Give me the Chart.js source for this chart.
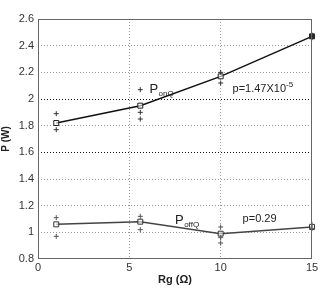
<!DOCTYPE html>
<html>
<head>
<meta charset="utf-8">
<script src="https://cdn.jsdelivr.net/npm/chart.js@4"></script>
<style>
  html, body { margin: 0; padding: 0; background: #fff; }
  #wrap { width: 333px; height: 291px; }
</style>
</head>
<body>
<div id="wrap"><canvas id="powerChart"></canvas></div>
<script>
// Rg values (ohm)
const rg = [1, 5.6, 10, 15];
// mean power, W
const onMean = [1.82, 1.95, 2.17, 2.47];
const offMean = [1.06, 1.08, 0.99, 1.04];
// individual samples
const onSamplesX = [1, 1, 5.6, 5.6, 5.6, 10, 10, 15, 15];
const onSamplesY = [1.89, 1.77, 2.07, 1.90, 1.85, 2.20, 2.12, 2.48, 2.46];
const offSamplesX = [1, 1, 5.6, 5.6, 10, 10, 10, 15, 15];
const offSamplesY = [1.11, 0.97, 1.12, 1.02, 1.04, 0.96, 0.92, 1.06, 1.03];
const xTicks = [0, 5, 10, 15];
const yTicks = [0.8, 1, 1.2, 1.4, 1.6, 1.8, 2, 2.2, 2.4, 2.6];

const pts = (xs, ys) => xs.map((x, i) => ({x: x, y: ys[i]}));

const labelFont = 'Liberation Sans, Arial, sans-serif';

// text labels and the closed frame
const extras = {
    id: 'extras',
    afterDatasetsDraw(chart) {
        const {ctx, chartArea, scales} = chart;
        const sx = scales.x, sy = scales.y;
        ctx.save();
        ctx.strokeStyle = '#666';
        ctx.lineWidth = 1;
        ctx.strokeRect(chartArea.left + 0.5, chartArea.top + 0.5,
            chartArea.right - chartArea.left - 1, chartArea.bottom - chartArea.top - 1);

        ctx.fillStyle = '#222';
        ctx.textBaseline = 'alphabetic';
        ctx.textAlign = 'left';
        const sub = (main, s, xv, yv) => {
            const px = sx.getPixelForValue(xv), py = sy.getPixelForValue(yv);
            ctx.font = '13px ' + labelFont;
            ctx.fillText(main, px, py);
            const w = ctx.measureText(main).width;
            ctx.font = '8px ' + labelFont;
            ctx.fillText(s, px + w + 0.5, py + 3);
        };
        sub('P', 'onQ', 6.1, 2.045);
        sub('P', 'offQ', 7.5, 1.06);

        ctx.font = '11px ' + labelFont;
        let px = sx.getPixelForValue(10.65), py = sy.getPixelForValue(2.05);
        ctx.fillText('p=1.47X10', px, py);
        let w = ctx.measureText('p=1.47X10').width;
        ctx.font = '8px ' + labelFont;
        ctx.fillText('-5', px + w, py - 5);

        ctx.font = '11px ' + labelFont;
        ctx.fillText('p=0.29', sx.getPixelForValue(11.2), sy.getPixelForValue(1.08));
        ctx.restore();
    }
};

new Chart(document.getElementById('powerChart'), {
    type: 'scatter',
    data: {
        datasets: [
            {
                label: 'PonQ samples',
                data: pts(onSamplesX, onSamplesY),
                pointStyle: 'cross',
                pointRadius: 2.5,
                borderColor: '#333',
                borderWidth: 1,
                showLine: false,
                clip: false
            },
            {
                label: 'PoffQ samples',
                data: pts(offSamplesX, offSamplesY),
                pointStyle: 'cross',
                pointRadius: 2.5,
                borderColor: '#555',
                borderWidth: 1,
                showLine: false,
                clip: false
            },
            {
                label: 'PonQ',
                data: pts(rg, onMean),
                showLine: true,
                clip: false,
                borderColor: '#111',
                borderWidth: 1.5,
                pointStyle: 'rect',
                pointRadius: 3.5,
                pointBorderWidth: 1,
                pointBorderColor: '#222',
                pointBackgroundColor: ['rgba(255,255,255,0.6)', 'rgba(255,255,255,0.6)', 'rgba(255,255,255,0.6)', '#222']
            },
            {
                label: 'PoffQ',
                data: pts(rg, offMean),
                showLine: true,
                clip: false,
                borderColor: '#444',
                borderWidth: 1.5,
                pointStyle: 'rect',
                pointRadius: 3.5,
                pointBorderWidth: 1,
                pointBorderColor: '#333',
                pointBackgroundColor: 'rgba(255,255,255,0.6)'
            }
        ]
    },
    options: {
        responsive: true,
        maintainAspectRatio: false,
        animation: false,
        layout: { padding: { top: 19, right: 21, left: 0, bottom: 0 } },
        plugins: {
            legend: { display: false },
            tooltip: { enabled: false }
        },
        scales: {
            x: {
                type: 'linear',
                min: 0,
                max: 15,
                afterBuildTicks: (s) => { s.ticks = xTicks.map(v => ({value: v})); },
                afterFit: (s) => { s.height = 32; },
                ticks: {
                    color: '#333',
                    font: { family: labelFont, size: 11 },
                    padding: 2,
                    maxRotation: 0
                },
                grid: {
                    color: (c) => (c.tick && (c.tick.value === 0 || c.tick.value === 15)) ? 'rgba(0,0,0,0)' : '#999',
                    drawTicks: false,
                    lineWidth: 1
                },
                border: { display: false, dash: [1, 2] },
                title: {
                    display: true,
                    text: 'Rg (Ω)',
                    color: '#222',
                    font: { family: labelFont, size: 11, weight: 'bold' },
                    padding: { top: 0, bottom: 4 }
                }
            },
            y: {
                min: 0.8,
                max: 2.6,
                afterBuildTicks: (s) => { s.ticks = yTicks.map(v => ({value: v})); },
                afterFit: (s) => { s.width = 38; },
                ticks: {
                    color: '#333',
                    font: { family: labelFont, size: 11 },
                    padding: 4,
                    callback: (v) => String(Math.round(v * 10) / 10)
                },
                grid: {
                    color: (c) => {
                        if (!c.tick) return '#999';
                        const v = Math.round(c.tick.value * 10) / 10;
                        if (v === 0.8 || v === 2.6) return 'rgba(0,0,0,0)';
                        return (v === 2 || v === 1.6) ? '#111' : '#999';
                    },
                    drawTicks: false,
                    lineWidth: 1
                },
                border: { display: false, dash: [1, 2] },
                title: {
                    display: true,
                    text: 'P (W)',
                    color: '#222',
                    font: { family: labelFont, size: 10, weight: 'bold' },
                    padding: { top: 0, bottom: 0 }
                }
            }
        }
    },
    plugins: [extras]
});
</script>
</body>
</html>
